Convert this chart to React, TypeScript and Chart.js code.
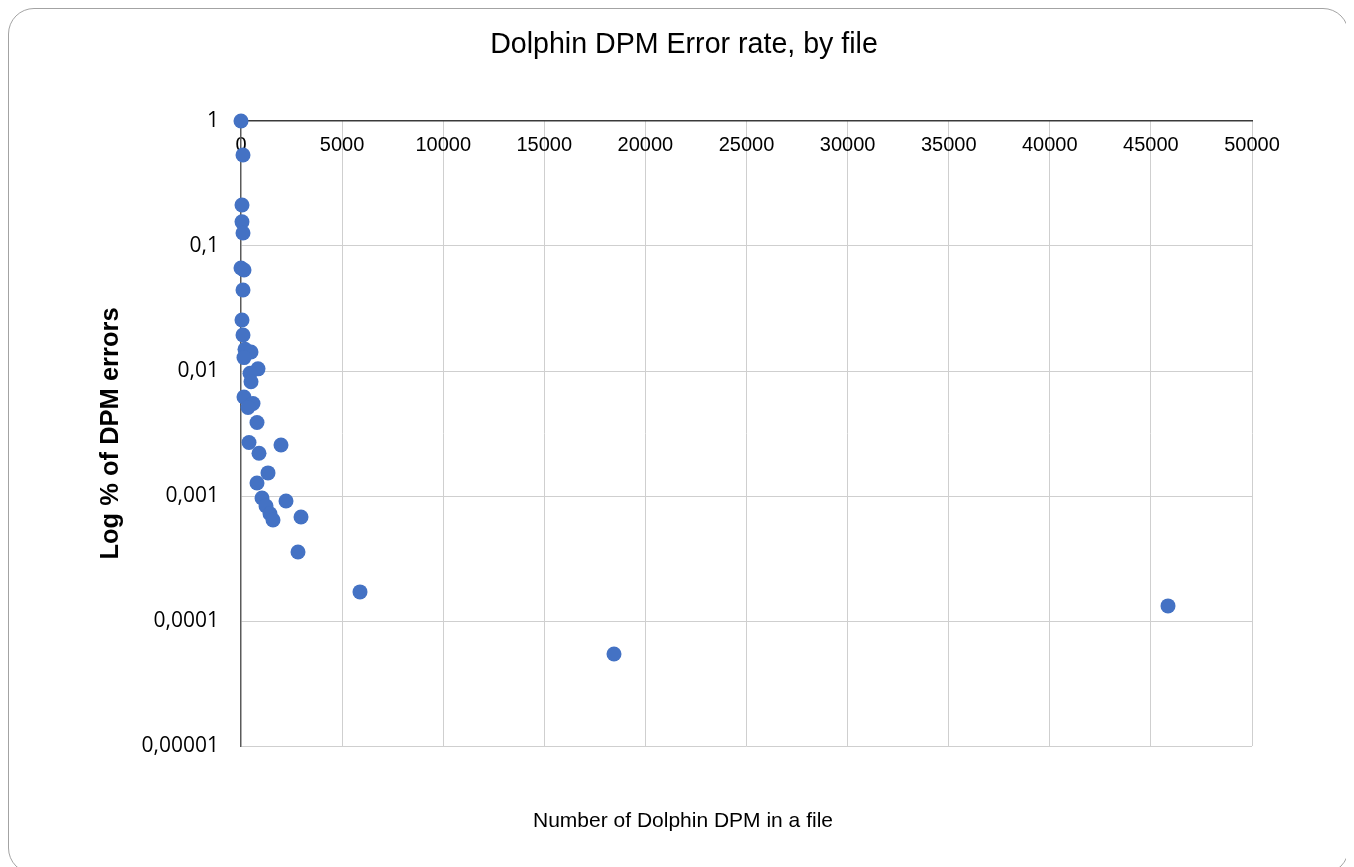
import React, { useEffect, useRef } from "react";
import { Chart, registerables } from "chart.js";

Chart.register(...registerables);

// Number of Dolphin DPM detected in each file
const dpmCounts = [
  0, 99, 49, 49, 99, 0, 148, 99, 49, 99,
  198, 495, 148, 841, 445, 495, 148, 594, 346, 791,
  396, 1978, 890, 1335, 791, 1039, 2226, 1237, 1434, 2968,
  1583, 2819, 5885, 18447, 45846,
];

// Share of DPM flagged as errors in each file
const errorRates = [
  1, 0.535, 0.213, 0.156, 0.127, 0.0667, 0.0643, 0.0445, 0.0256, 0.0194,
  0.0149, 0.0142, 0.0128, 0.0104, 0.0096, 0.0082, 0.0062, 0.0055, 0.0051, 0.00387,
  0.00268, 0.00256, 0.0022, 0.00153, 0.00127, 0.000964, 0.000912, 0.000832, 0.000722, 0.000679,
  0.000643, 0.000356, 0.000171, 0.0000545, 0.000132,
];

const yTickValues = [0.00001, 0.0001, 0.001, 0.01, 0.1, 1];
const yTickLabels = ["0,00001", "0,0001", "0,001", "0,01", "0,1", "1"];

const chartTitle = "Dolphin DPM Error rate, by file";
const xAxisTitle = "Number of Dolphin DPM in a file";
const yAxisTitle = "Log % of DPM errors";

const W = 1341;
const H = 866;

const textPlugin = {
  id: "chartTexts",
  afterDraw(chart: any) {
    const { ctx, chartArea } = chart;
    ctx.save();
    ctx.fillStyle = "#000";
    ctx.textAlign = "center";
    ctx.textBaseline = "alphabetic";

    ctx.font = "28.6px 'Liberation Sans', Arial, sans-serif";
    ctx.fillText(chartTitle, 676, 45);

    ctx.font = "21px 'Liberation Sans', Arial, sans-serif";
    ctx.fillText(xAxisTitle, 675, 819);

    ctx.translate(110, (chartArea.top + chartArea.bottom) / 2);
    ctx.rotate(-Math.PI / 2);
    ctx.font = "bold 25.5px 'Liberation Sans', Arial, sans-serif";
    ctx.fillText(yAxisTitle, 0, 0);
    ctx.restore();
  },
};

export default function App() {
  const canvasRef = useRef<HTMLCanvasElement | null>(null);

  useEffect(() => {
    document.documentElement.style.overflow = "hidden";
    document.body.style.overflow = "hidden";
    let chart: Chart | null = null;
    let cancelled = false;

    const build = () => {
      if (cancelled || !canvasRef.current) return;
      const points = dpmCounts.map((x, i) => ({ x, y: errorRates[i] }));
      chart = new Chart(canvasRef.current, {
        type: "scatter",
        data: {
          datasets: [
            {
              data: points,
              backgroundColor: "#4472C4",
              borderColor: "#4472C4",
              borderWidth: 0,
              pointRadius: 7.5,
              pointHoverRadius: 7.5,
              clip: false as any,
            },
          ],
        },
        plugins: [textPlugin],
        options: {
          animation: false,
          responsive: false,
          devicePixelRatio: 1,
          layout: { padding: { left: 113, right: 97, top: 113, bottom: H - 738 } },
          plugins: {
            legend: { display: false },
            tooltip: { enabled: false },
            title: { display: false },
          },
          scales: {
            x: {
              type: "linear",
              position: { y: 1 } as any,
              min: 0,
              max: 50000,
              afterFit(scale: any) {
                scale.height = 0;
              },
              ticks: {
                stepSize: 5000,
                maxRotation: 0,
                autoSkip: false,
                padding: 12,
                color: "#000",
                font: { family: "'Liberation Sans', Arial, sans-serif", size: 20 },
                callback: (v: any) => String(v),
              },
              grid: {
                drawTicks: false,
                lineWidth: 1,
                color: (c: any) => (c.tick && c.tick.value === 0 ? "rgba(0,0,0,0)" : "#cfcfcf"),
              },
              border: { display: true, color: "#3a3a3a", width: 1.5 },
            },
            y: {
              type: "logarithmic",
              position: "left",
              min: 0.00001,
              max: 1,
              afterFit(scale: any) {
                scale.width = 120;
              },
              afterBuildTicks(scale: any) {
                scale.ticks = yTickValues.map((value) => ({ value }));
              },
              ticks: {
                padding: 22,
                color: "#000",
                font: { family: "'Open Sans', sans-serif", size: 21 },
                callback: (v: any) => {
                  const i = yTickValues.findIndex((t) => Math.abs(t - v) / t < 1e-6);
                  return i >= 0 ? yTickLabels[i] : "";
                },
              },
              grid: {
                drawTicks: false,
                lineWidth: 1,
                color: (c: any) => (c.tick && c.tick.value === 1 ? "rgba(0,0,0,0)" : "#cfcfcf"),
              },
              border: { display: true, color: "#5a5a5a", width: 1.5 },
            },
          },
        },
      });
    };

    const fonts = (document as any).fonts;
    if (fonts && fonts.load) {
      Promise.all([
        fonts.load("21px 'Open Sans'"),
        fonts.load("20px 'Liberation Sans'"),
        fonts.load("bold 20px 'Liberation Sans'"),
      ])
        .catch(() => undefined)
        .then(build);
    } else {
      build();
    }

    return () => {
      cancelled = true;
      if (chart) chart.destroy();
    };
  }, []);

  return (
    <div style={{ position: "relative", width: W, height: H }}>
      <canvas ref={canvasRef} width={W} height={H} style={{ display: "block" }} />
      <div
        style={{
          position: "absolute",
          inset: 0,
          border: "1.5px solid #a3a3a3",
          borderRadius: 26,
          boxSizing: "border-box",
          pointerEvents: "none",
        }}
      />
    </div>
  );
}
